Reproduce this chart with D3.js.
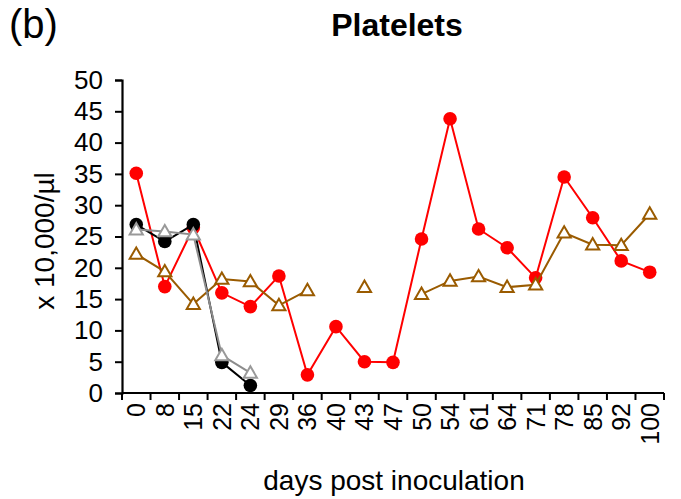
<!DOCTYPE html>
<html>
<head>
<meta charset="utf-8">
<script src="https://cdn.jsdelivr.net/npm/d3@7"></script>
<style>
  body { margin: 0; background: #fff; }
  svg { display: block; font-family: "Liberation Sans", Arial, sans-serif; }
</style>
</head>
<body>
<svg id="chart" width="681" height="499"></svg>
<script>
// days post inoculation (categorical axis)
var days = ["0", "8", "15", "22", "24", "29", "36", "40", "43", "47", "50", "54", "61", "64", "71", "78", "85", "92", "100"];
var yTicks = [0, 5, 10, 15, 20, 25, 30, 35, 40, 45, 50];

// platelet counts, x 10,000/ul (null = no sample)
var redVals   = [35.1, 17.0, 26.4, 16.0, 13.8, 18.7, 2.9, 10.6, 5.0, 4.9, 24.6, 43.8, 26.2, 23.2, 18.4, 34.5, 28.0, 21.1, 19.3];
var brownVals = [22.2, 19.4, 14.2, 18.2, 17.8, 14.0, 16.4, null, 16.9, null, 15.8, 17.9, 18.6, 16.9, 17.3, 25.6, 23.7, 23.6, 28.6];
var blackVals = [26.9, 24.2, 26.9, 4.9, 1.2];
var grayVals  = [26.1, 25.8, 25.3, 6.0, 3.2];

var svg = d3.select("#chart"),
    margin = {left: 122, right: 17, top: 80, bottom: 106},
    width = +svg.attr("width") - margin.left - margin.right,
    height = +svg.attr("height") - margin.top - margin.bottom;

var x = d3.scaleBand().domain(days).range([0, width]);
var y = d3.scaleLinear().domain([0, 50]).range([height, 0]);

var g = svg.append("g")
    .attr("transform", "translate(" + margin.left + "," + margin.top + ")");

// y axis
var yAxis = g.append("g")
    .call(d3.axisLeft(y).tickValues(yTicks).tickSize(7).tickPadding(12));
yAxis.select(".domain").attr("stroke-width", 2.2);
yAxis.selectAll(".tick line").attr("stroke-width", 2);
yAxis.selectAll("text").attr("font-size", 26).attr("fill", "#000");

// x axis, ticks on category boundaries
var xAxis = g.append("g")
    .attr("transform", "translate(0," + height + ")");
xAxis.append("line")
    .attr("x1", 0).attr("x2", width)
    .attr("stroke", "#000").attr("stroke-width", 2.2);
xAxis.selectAll("line.tk")
  .data(d3.range(days.length + 1))
  .enter().append("line")
    .attr("class", "tk")
    .attr("x1", function(i) { return i * x.step(); })
    .attr("x2", function(i) { return i * x.step(); })
    .attr("y1", 0).attr("y2", 7)
    .attr("stroke", "#000").attr("stroke-width", 2);
xAxis.selectAll("text")
  .data(days)
  .enter().append("text")
    .attr("transform", function(d) {
      return "translate(" + (x(d) + x.bandwidth() / 2 + 9) + ",10) rotate(-90)";
    })
    .attr("text-anchor", "end")
    .attr("font-size", 25)
    .text(function(d) { return d; });

function cx(i) { return x(days[i]) + x.bandwidth() / 2; }

var line = d3.line()
    .defined(function(d) { return d != null; })
    .x(function(d, i) { return cx(i); })
    .y(function(d) { return y(d); });

var tri = d3.symbol().type(d3.symbolTriangle).size(75);

function drawSeries(vals, color, marker, fill, lineColor) {
  var s = g.append("g");
  s.append("path")
      .datum(vals)
      .attr("fill", "none")
      .attr("stroke", lineColor || color)
      .attr("stroke-width", 2)
      .attr("d", line);
  var pts = vals.map(function(v, i) { return {v: v, i: i}; })
      .filter(function(p) { return p.v != null; });
  if (marker === "circle") {
    s.selectAll("circle").data(pts).enter().append("circle")
        .attr("cx", function(p) { return cx(p.i); })
        .attr("cy", function(p) { return y(p.v); })
        .attr("r", 6.8)
        .attr("fill", fill);
  } else {
    s.selectAll("path.m").data(pts).enter().append("path")
        .attr("class", "m")
        .attr("d", tri)
        .attr("transform", function(p) { return "translate(" + cx(p.i) + "," + (y(p.v) + 1) + ")"; })
        .attr("fill", fill)
        .attr("stroke", color)
        .attr("stroke-width", 2);
  }
}

drawSeries(redVals, "#ff0000", "circle", "#ff0000");
drawSeries(brownVals, "#9a5b00", "triangle", "#fff");
drawSeries(blackVals, "#000", "circle", "#000");
drawSeries(grayVals, "#999", "triangle", "#fff", "#8c8c8c");

// titles
svg.append("text")
    .attr("x", 397).attr("y", 36)
    .attr("text-anchor", "middle")
    .attr("font-size", 32).attr("font-weight", "bold")
    .text("Platelets");
svg.append("text")
    .attr("x", 9).attr("y", 38)
    .attr("font-size", 40)
    .text("(b)");
svg.append("text")
    .attr("transform", "translate(54,241) rotate(-90)")
    .attr("text-anchor", "middle")
    .attr("font-size", 28)
    .text("x 10,000/µl");
svg.append("text")
    .attr("x", 394).attr("y", 490)
    .attr("text-anchor", "middle")
    .attr("font-size", 28)
    .text("days post inoculation");
</script>
</body>
</html>
